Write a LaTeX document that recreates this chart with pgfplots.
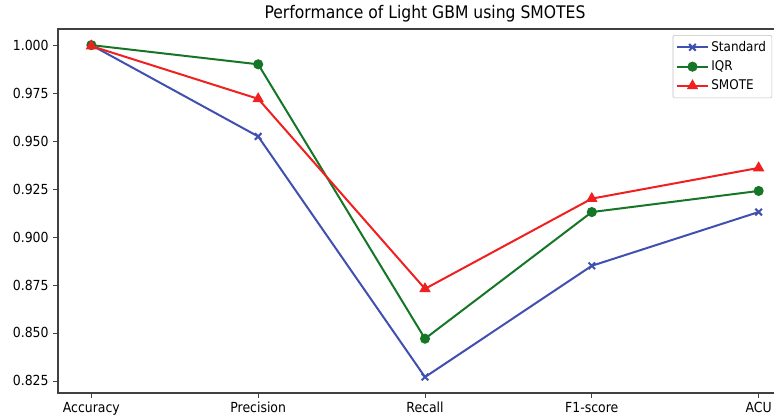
\documentclass[border=0pt]{standalone}
\usepackage{pgfplots}
\pgfplotsset{compat=1.18}
\usepackage{fontspec}
\setmainfont{DejaVu Sans}[FakeStretch=0.9]
\definecolor{cstd}{RGB}{64,80,176}
\definecolor{ciqr}{RGB}{22,118,40}
\definecolor{csm}{RGB}{240,32,32}
\begin{document}
\begin{tikzpicture}
\begin{axis}[
  at={(0,0)}, anchor=south west,
  scale only axis,
  width=550.5pt, height=273pt,
  xmin=-0.2, xmax=4.2,
  ymin=0.8187, ymax=1.0084,
  xtick={0,1,2,3,4},
  xticklabels={Accuracy,Precision,Recall,F1-score,ACU},
  ytick={0.825,0.85,0.875,0.9,0.925,0.95,0.975,1.0},
  yticklabel style={/pgf/number format/.cd,fixed,fixed zerofill,precision=3},
  /pgf/number format/assume math mode=true,
  tick label style={font=\fontsize{10.4}{12}\selectfont},
  tick align=outside,
  xtick pos=bottom, ytick pos=left,
  major tick length=3.5pt,
  axis line style={line width=0.8pt, black!75},
  every tick/.style={black!75, line width=0.6pt},
  title={Performance of Light GBM using SMOTES},
  title style={font=\fontsize{13}{15}\selectfont, yshift=-4.5pt},
  legend style={at={(rel axis cs:0.973,0.9835)}, anchor=north east,
    font=\fontsize{10}{12}\selectfont, draw=black!25, rounded corners=1pt,
    row sep=1.5pt, inner sep=2.5pt},
  legend image code/.code={\draw[mark repeat=2,mark phase=2] plot coordinates {(0cm,0cm) (0.4cm,0cm) (0.8cm,0cm)};},
  legend cell align=left,
]
\addplot[cstd, line width=1.5pt, mark=x, mark size=3.5pt] coordinates {
  (0,1.000) (1,0.9524) (2,0.827) (3,0.885) (4,0.913)};
\addlegendentry{Standard}
\addplot[ciqr, line width=1.5pt, mark=*, mark size=3pt] coordinates {
  (0,1.000) (1,0.990) (2,0.847) (3,0.913) (4,0.924)};
\addlegendentry{IQR}
\addplot[csm, line width=1.5pt, mark=triangle*, mark size=3.5pt] coordinates {
  (0,0.9995) (1,0.972) (2,0.873) (3,0.920) (4,0.936)};
\addlegendentry{SMOTE}
\end{axis}
\pgfresetboundingbox
\useasboundingbox (-43.5pt,-18.75pt) rectangle (537pt,294.75pt);
\end{tikzpicture}
\end{document}
